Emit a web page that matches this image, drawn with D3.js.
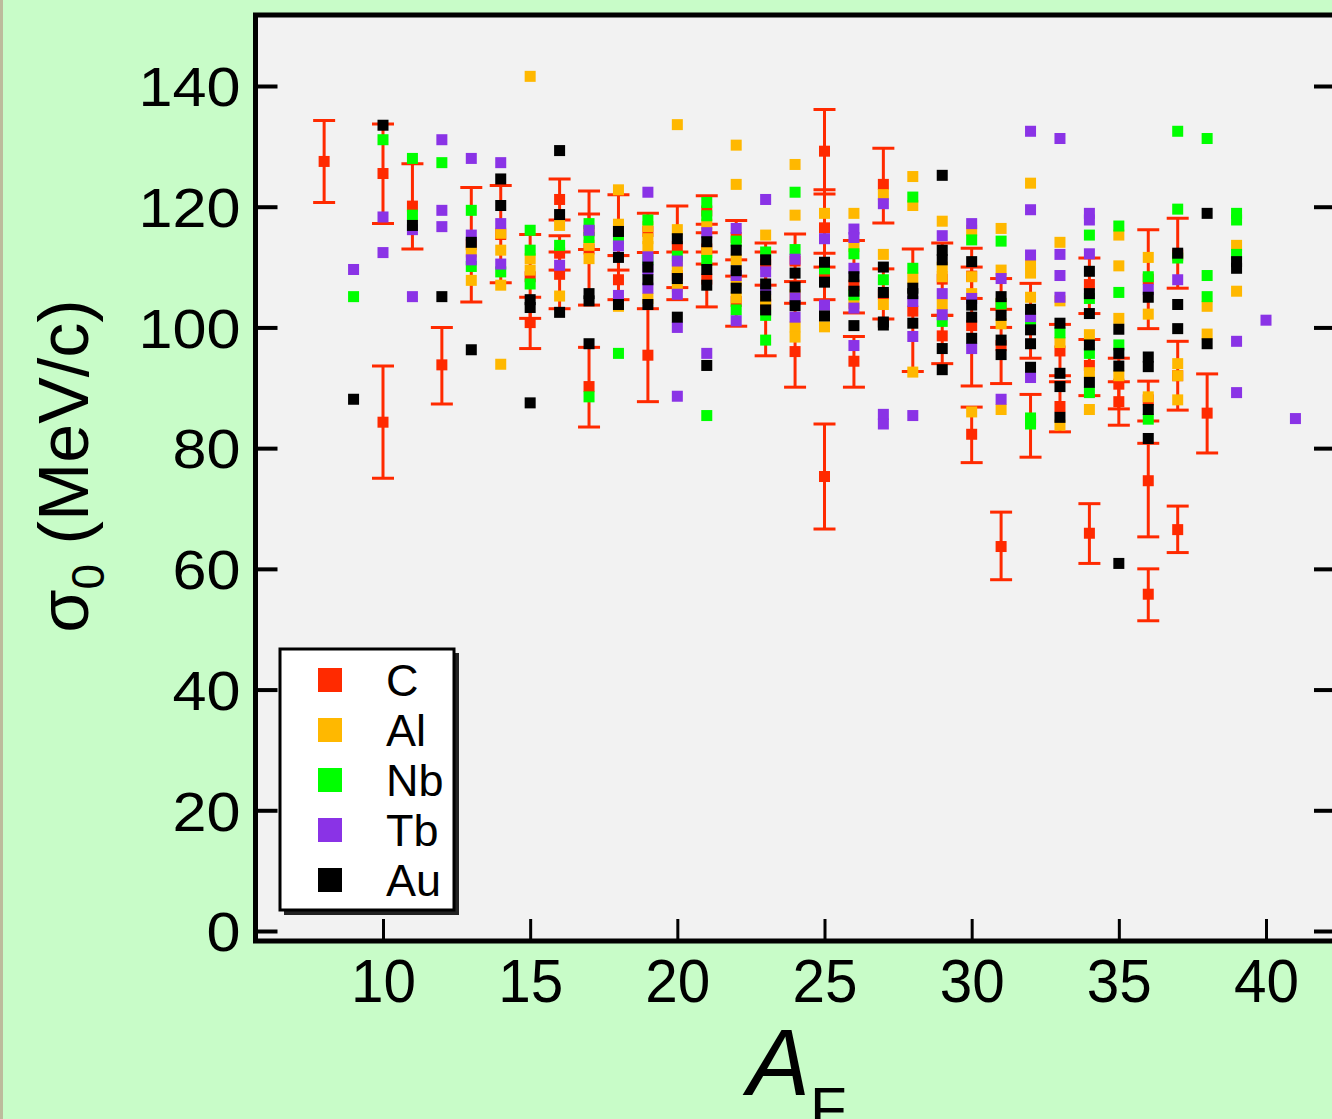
<!DOCTYPE html>
<html>
<head>
<meta charset="utf-8">
<script src="https://cdn.jsdelivr.net/npm/d3@7"></script>
<style>
  html, body { margin: 0; padding: 0; background: #c8fcc8; }
  svg { display: block; }
  text { font-family: "Liberation Sans", Arial, sans-serif; fill: #000; }
</style>
</head>
<body>
<svg id="chart" width="1332" height="1119"></svg>
<script>
// ---------------- data ----------------
const seriesNames = ["C", "Al", "Nb", "Tb", "Au"];
const seriesColors = ["#ff2a00", "#ffb800", "#00ff00", "#8a33e6", "#000000"];
const xTicks = [10, 15, 20, 25, 30, 35, 40];
const yTicks = [0, 20, 40, 60, 80, 100, 120, 140];

// C : [A_F, sigma0, upper error end, lower error end]
const cPoints = [
  [8,127.5,134.3,120.7],[10,125.5,133.7,117.2],[10,84.3,93.6,75.0],[11,120.1,127.1,113.0],
  [12,93.8,100.0,87.3],[13,113.7,123.2,104.2],[14,115.4,123.5,107.4],[15,108.4,115.4,101.5],
  [15,100.8,105.0,96.5],[16,121.2,124.6,117.8],[16,112.3,115.2,109.5],[16,108.8,112.5,103.1],
  [17,116.0,118.8,112.9],[17,113.0,122.6,103.7],[17,90.2,96.7,83.5],[18,116.0,122.0,109.5],
  [18,107.9,111.9,104.6],[19,115.9,118.9,112.4],[19,95.4,103.1,87.7],[20,113.4,120.1,106.6],
  [20,108.6,112.5,104.6],[21,119.3,121.8,117.1],[21,113.0,115.7,110.5],[21,108.0,112.5,103.4],
  [22,114.9,117.7,111.2],[22,104.3,108.5,100.2],[23,110.5,114.0,107.0],[23,103.8,112.5,95.3],
  [24,111.0,115.5,107.6],[24,96.0,104.0,90.1],[25,129.2,136.1,122.1],[25,116.5,122.8,110.0],
  [25,108.5,112.3,104.6],[25,75.3,84.0,66.6],[26,107.0,114.4,102.4],[26,94.4,98.5,90.1],
  [27,123.7,129.7,117.3],[27,105.5,109.7,101.4],[28,102.7,113.0,92.7],[29,108.0,114.0,102.0],
  [29,98.6,102.0,94.0],[30,108.5,113.1,104.8],[30,100.3,110.0,90.3],[30,82.3,86.8,77.6],
  [31,104.0,108.1,100.0],[31,97.0,103.0,90.7],[31,63.7,69.4,58.2],[32,101.5,107.3,94.9],
  [32,84.5,88.9,78.5],[33,96.1,100.5,92.0],[33,86.9,91.0,82.7],[34,107.1,111.5,102.3],
  [34,93.7,98.0,88.7],[34,65.9,70.8,60.9],[35,90.6,94.9,86.5],[35,87.7,91.0,83.8],
  [36,108.0,116.2,99.8],[36,88.0,91.1,84.5],[36,74.6,80.8,65.3],[36,55.8,60.0,51.4],
  [37,112.0,118.1,106.5],[37,92.0,97.7,86.3],[37,66.5,70.4,62.7],[38,85.8,92.3,79.2]
];

const alPoints = [
  [13,112.5],[13,107.8],[14,115.6],[14,112.8],[14,107.0],[14,93.9],[15,141.6],[15,111.4],[15,109.5],
  [16,116.9],[16,105.2],[17,113.6],[17,111.4],[18,122.8],[18,117.1],[18,103.5],
  [19,116.7],[19,114.7],[19,113.4],[19,104.8],[20,133.6],[20,116.2],[20,109.9],[20,106.7],
  [21,117.1],[21,112.4],[22,130.2],[22,123.7],[22,111.2],[22,107.7],[22,104.9],[23,115.3],[23,104.6],
  [24,127.0],[24,118.6],[24,105.4],[24,100.1],[24,98.4],[25,118.9],[25,100.1],
  [26,118.9],[26,113.4],[26,104.0],[27,122.0],[27,112.1],[27,103.8],
  [28,125.0],[28,120.2],[28,108.2],[28,92.6],[29,117.6],[29,110.0],[29,108.4],[29,103.8],
  [30,116.1],[30,108.4],[30,105.6],[30,86.0],[31,116.4],[31,109.5],[31,100.6],[31,86.4],
  [32,123.9],[32,110.5],[32,109.0],[32,105.0],[33,114.1],[33,104.4],[33,97.5],[33,83.8],
  [34,98.8],[34,92.5],[34,86.4],[35,115.3],[35,110.2],[35,101.5],[35,92.0],
  [36,111.6],[36,102.2],[36,88.5],[37,94.0],[37,92.0],[37,88.0],[38,103.5],[38,98.9],
  [39,113.6],[39,106.0]
];

const nbPoints = [
  [9,105.1],[10,131.1],[11,128.0],[11,118.6],[12,127.3],[13,119.4],[13,110.1],[14,109.2],
  [15,116.1],[15,112.8],[15,107.2],[16,113.6],[17,117.2],[17,114.9],[17,88.5],[18,114.7],[18,95.7],
  [19,117.8],[19,111.2],[20,111.8],[21,120.7],[21,118.5],[21,111.1],[21,85.4],[22,114.3],[22,102.9],
  [23,112.5],[23,102.0],[23,97.9],[24,122.4],[24,112.9],[25,109.7],[26,112.2],[26,105.4],
  [27,107.9],[28,121.6],[28,109.8],[29,101.0],[30,114.5],[31,114.3],[31,103.9],
  [32,100.9],[32,85.0],[32,84.0],[33,99.1],[34,115.3],[34,104.8],[34,95.7],[34,89.2],
  [35,116.8],[35,105.8],[35,97.1],[36,108.4],[36,84.8],[37,132.5],[37,119.6],[37,111.5],
  [38,131.3],[38,108.6],[38,105.1],[39,118.9],[39,117.8],[39,112.1]
];

const tbPoints = [
  [9,109.6],[10,118.3],[10,112.4],[11,116.2],[11,105.1],[12,131.1],[12,119.4],[12,116.7],
  [13,128.0],[13,115.3],[13,111.2],[14,127.3],[14,117.2],[14,110.5],[16,110.3],[17,116.1],
  [18,113.5],[18,105.3],[19,122.4],[19,111.7],[19,109.6],[19,106.5],
  [20,111.0],[20,105.5],[20,100.0],[20,88.6],[21,115.7],[21,95.7],[22,116.4],[22,108.6],[22,101.1],
  [23,121.2],[23,109.2],[23,106.3],[24,111.3],[24,104.9],[24,101.7],[25,114.7],[25,103.7],
  [26,116.3],[26,114.9],[26,109.8],[26,103.2],[26,97.0],[27,120.5],[27,85.6],[27,84.0],
  [28,104.3],[28,98.5],[28,85.4],[29,115.2],[29,105.6],[29,102.1],[30,117.2],[30,104.8],[30,96.5],
  [31,108.1],[31,88.1],[32,132.5],[32,119.5],[32,112.0],[32,101.8],[32,91.7],
  [33,131.3],[33,112.1],[33,108.6],[33,105.0],[34,118.9],[34,117.8],[34,112.2],
  [36,106.3],[37,107.9],[39,97.7],[39,89.2],[40,101.2],[41,84.9]
];

const auPoints = [
  [9,88.1],[10,133.5],[11,116.9],[12,105.1],[13,114.1],[13,96.3],[14,124.6],[14,120.2],
  [15,104.6],[15,103.3],[15,87.5],[16,129.3],[16,118.7],[16,102.5],[17,105.6],[17,104.4],[17,97.3],
  [18,115.9],[18,111.6],[18,103.8],[19,110.0],[19,107.9],[19,103.8],[20,114.7],[20,108.1],[20,101.7],
  [21,114.2],[21,109.6],[21,107.0],[21,93.7],[22,112.8],[22,109.4],[22,106.5],
  [23,111.2],[23,107.2],[23,105.2],[23,102.9],[24,109.0],[24,106.7],[24,103.6],
  [25,110.8],[25,107.5],[25,101.9],[26,108.4],[26,106.0],[26,100.3],
  [27,110.0],[27,105.8],[27,100.9],[27,100.4],[28,106.5],[28,105.6],[28,100.7],
  [29,125.2],[29,112.8],[29,111.2],[29,96.5],[29,93.0],[30,110.9],[30,103.7],[30,101.7],[30,98.2],
  [31,105.1],[31,102.0],[31,97.9],[31,95.5],[32,103.0],[32,99.6],[32,97.3],[32,93.4],
  [33,100.7],[33,92.4],[33,90.2],[33,85.1],[34,109.3],[34,105.6],[34,102.3],[34,97.1],[34,90.9],
  [35,99.7],[35,95.7],[35,93.6],[35,60.9],[36,105.0],[36,95.1],[36,93.5],[36,86.4],[36,81.6],
  [37,112.3],[37,103.8],[37,99.8],[38,118.9],[38,97.3],[39,110.9],[39,109.8]
];

// ---------------- drawing ----------------
const svg = d3.select("#chart");
const W = 1332, H = 1119;

// left edge strip
svg.append("rect").attr("x", 0).attr("y", 0).attr("width", 3).attr("height", H).attr("fill", "#bdbb9c");

const plot = { left: 255.5, top: 15, right: 1336, bottom: 941 };

const x = d3.scaleLinear().domain([10, 40]).range([383, 1266]);
const y = d3.scaleLinear().domain([0, 140]).range([931, 86]);

svg.append("rect")
  .attr("x", plot.left).attr("y", plot.top)
  .attr("width", plot.right - plot.left).attr("height", plot.bottom - plot.top)
  .attr("fill", "#f2f2f2");

svg.append("clipPath").attr("id", "clip")
  .append("rect").attr("x", plot.left).attr("y", plot.top)
  .attr("width", plot.right - plot.left).attr("height", plot.bottom - plot.top);

const g = svg.append("g").attr("clip-path", "url(#clip)");

// error bars (C)
const red = seriesColors[0];
const capW = 11;
const eb = g.append("g").attr("stroke", red).attr("stroke-width", 3);
cPoints.forEach(d => {
  const cx = x(d[0]);
  eb.append("line").attr("x1", cx).attr("x2", cx).attr("y1", y(d[2])).attr("y2", y(d[3]));
  eb.append("line").attr("x1", cx - capW).attr("x2", cx + capW).attr("y1", y(d[2])).attr("y2", y(d[2]));
  eb.append("line").attr("x1", cx - capW).attr("x2", cx + capW).attr("y1", y(d[3])).attr("y2", y(d[3]));
});

const ms = 11;
const allSeries = [cPoints, alPoints, nbPoints, tbPoints, auPoints];
allSeries.forEach((pts, i) => {
  g.append("g").selectAll("rect").data(pts).join("rect")
    .attr("x", d => x(d[0]) - ms / 2)
    .attr("y", d => y(d[1]) - ms / 2)
    .attr("width", ms).attr("height", ms)
    .attr("fill", seriesColors[i]);
});

// axes
const yAxis = d3.axisLeft(y).tickValues(yTicks).tickSize(-22).tickPadding(15).tickFormat(d3.format("d"));
const yg = svg.append("g").attr("transform", `translate(${plot.left},0)`).call(yAxis);
yg.select(".domain").remove();
yg.selectAll(".tick line").attr("stroke", "#000").attr("stroke-width", 4);
yg.selectAll(".tick text").style("font-size", "55px").attr("dy", "0.36em")
  .attr("font-family", "Liberation Sans, Arial, sans-serif")
  .attr("textLength", d => String(d).length * 34)
  .attr("lengthAdjust", "spacingAndGlyphs");

const yAxisR = d3.axisRight(y).tickValues(yTicks).tickSize(-22).tickFormat("");
const yr = svg.append("g").attr("transform", `translate(${plot.right},0)`).call(yAxisR);
yr.select(".domain").remove();
yr.selectAll(".tick line").attr("stroke", "#000").attr("stroke-width", 4);

const xAxis = d3.axisBottom(x).tickValues(xTicks).tickSize(-22).tickPadding(17).tickFormat(d3.format("d"));
const xg = svg.append("g").attr("transform", `translate(0,${plot.bottom})`).call(xAxis);
xg.select(".domain").remove();
xg.selectAll(".tick line").attr("stroke", "#000").attr("stroke-width", 3);
xg.selectAll(".tick text").style("font-size", "62px")
  .attr("font-family", "Liberation Sans, Arial, sans-serif")
  .attr("textLength", d => String(d).length * 32.5)
  .attr("lengthAdjust", "spacingAndGlyphs");

// frame
svg.append("rect")
  .attr("x", plot.left).attr("y", plot.top)
  .attr("width", plot.right - plot.left).attr("height", plot.bottom - plot.top)
  .attr("fill", "none").attr("stroke", "#000").attr("stroke-width", 5);

// axis titles
const yt = svg.append("text")
  .attr("transform", "translate(88,466) rotate(-90)")
  .attr("text-anchor", "middle")
  .style("font-size", "70px");
yt.append("tspan").text("σ");
yt.append("tspan").text("0").style("font-size", "46px").attr("dy", "16");
yt.append("tspan").text(" (MeV/c)").attr("dy", "-16");

const xt = svg.append("text")
  .attr("x", 797).attr("y", 1095)
  .attr("text-anchor", "middle")
  .style("font-size", "94px");
xt.append("tspan").text("A").style("font-style", "italic");
xt.append("tspan").text("F").style("font-size", "60px").attr("dy", "34");

// legend
const lg = svg.append("g");
lg.append("rect").attr("x", 284).attr("y", 653).attr("width", 175).attr("height", 262).attr("fill", "#222");
lg.append("rect").attr("x", 280).attr("y", 649).attr("width", 174).attr("height", 261)
  .attr("fill", "#fff").attr("stroke", "#000").attr("stroke-width", 3);
seriesNames.forEach((name, i) => {
  const cy = 680 + i * 50;
  lg.append("rect").attr("x", 318).attr("y", cy - 12).attr("width", 24).attr("height", 24)
    .attr("fill", seriesColors[i]);
  lg.append("text").attr("x", 386).attr("y", cy).attr("dy", "0.36em")
    .style("font-size", "45px").text(name);
});
</script>
</body>
</html>
